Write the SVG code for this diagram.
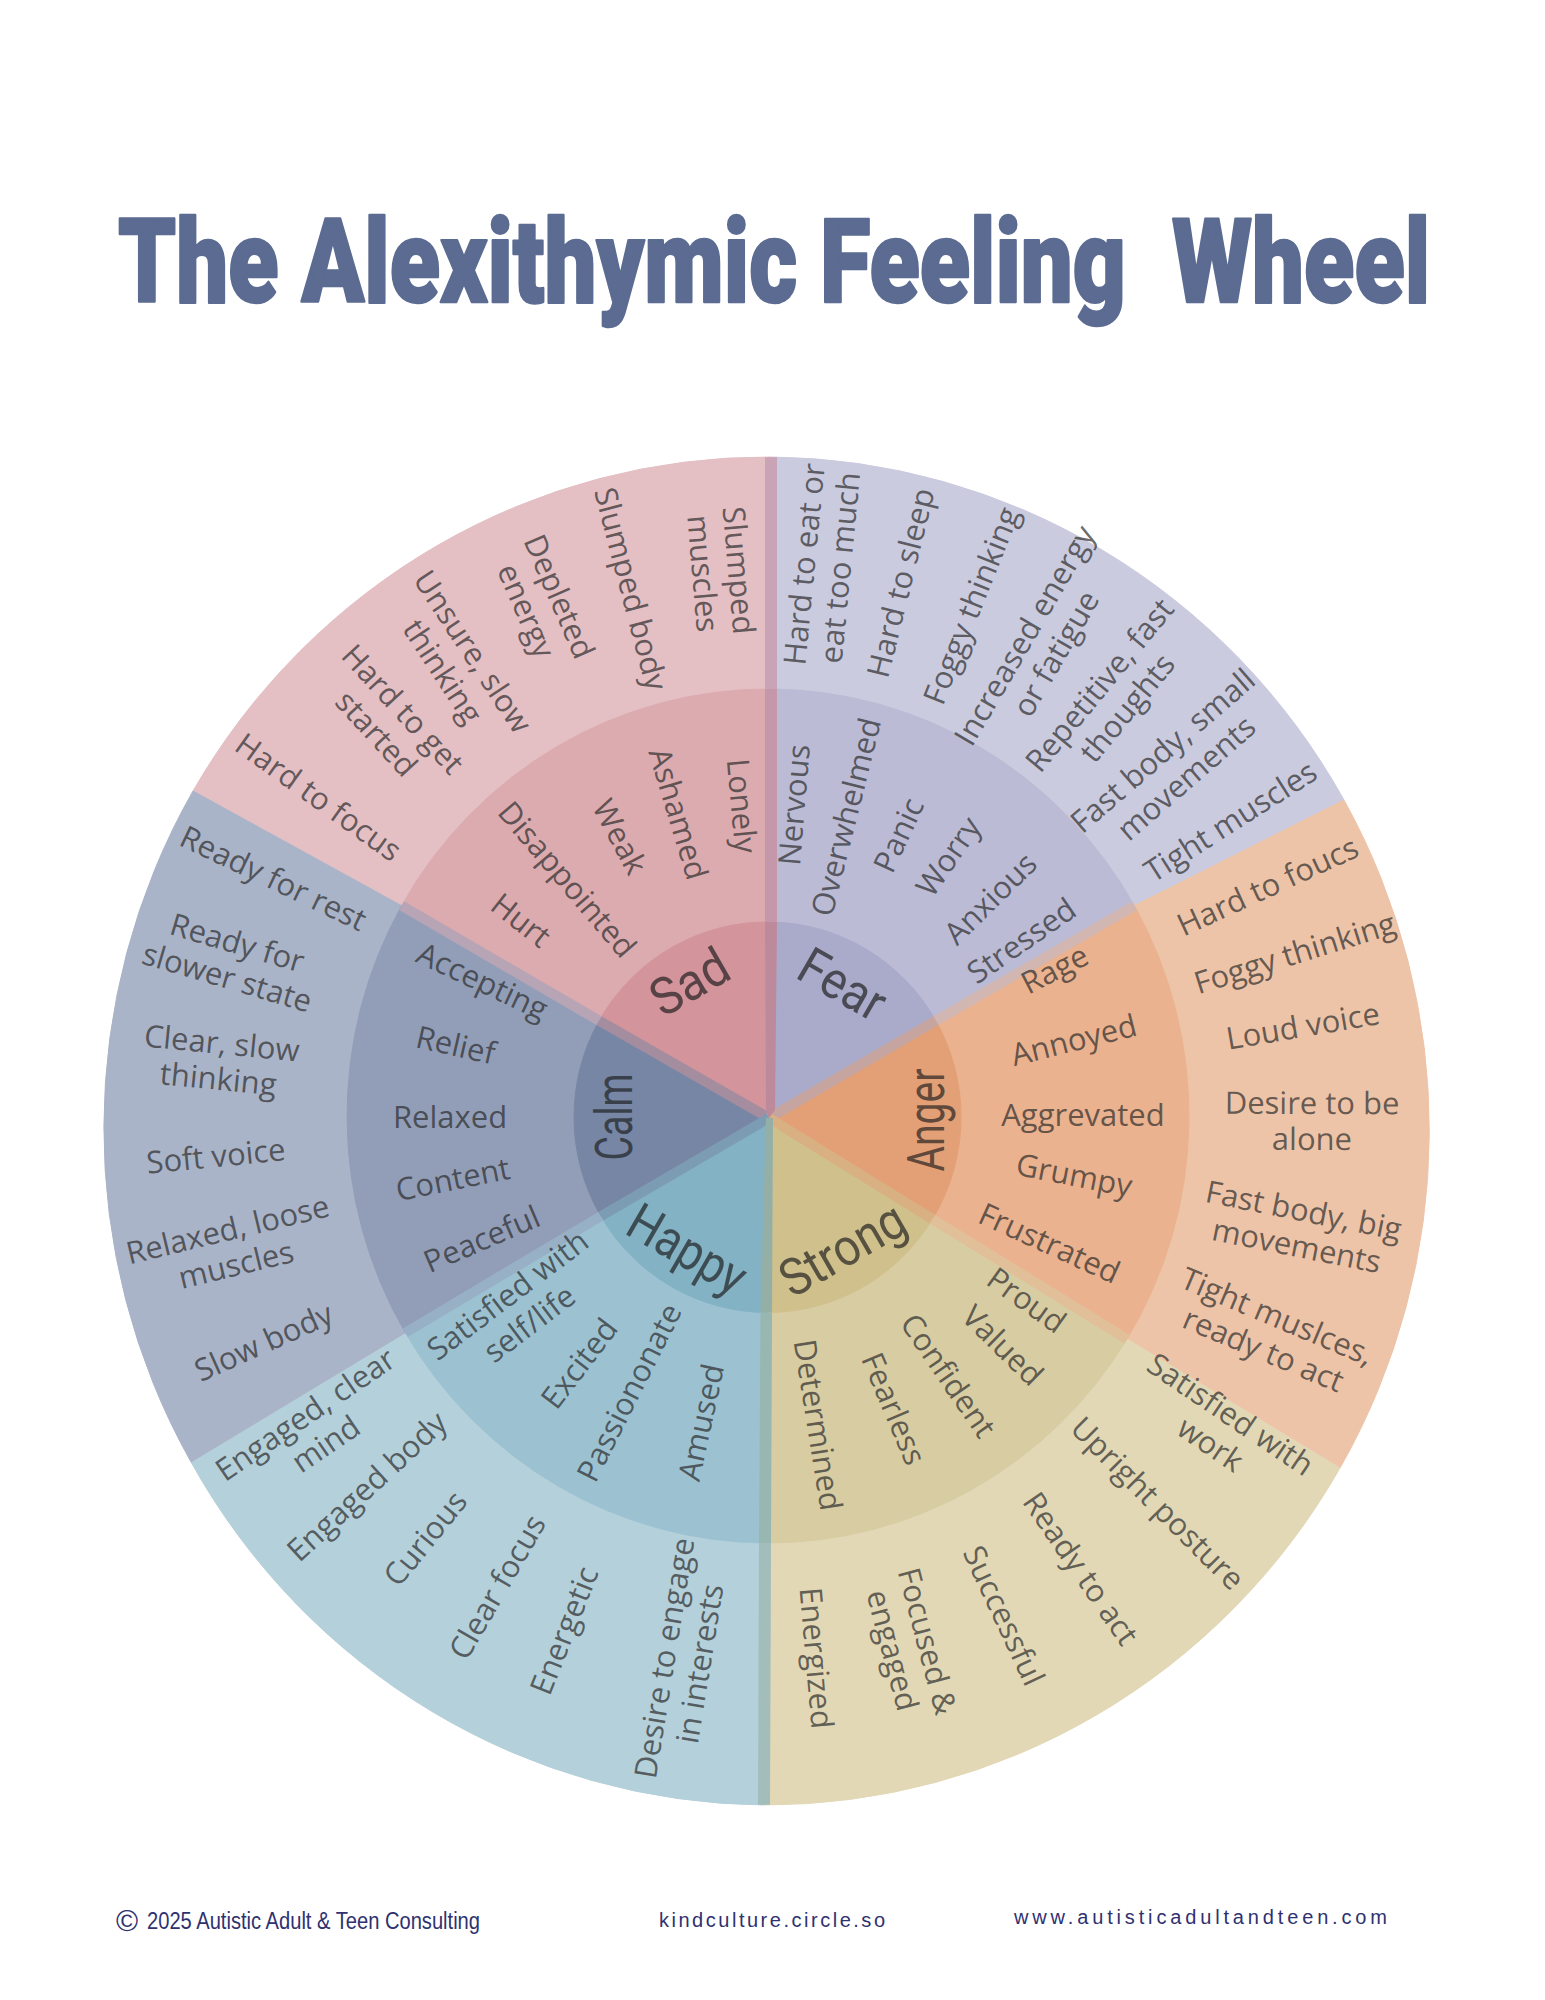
<svg xmlns="http://www.w3.org/2000/svg" width="1545" height="2000" viewBox="0 0 1545 2000">
<style>
.p{stroke-width:1;stroke-linejoin:round}
.sad-o{fill:#e4bfc4;stroke:#e4bfc4}.sad-m{fill:#dcabaf;stroke:#dcabaf}.sad-i{fill:#d4949c;stroke:#d4949c}
.fear-o{fill:#cbcbdf;stroke:#cbcbdf}.fear-m{fill:#bbbbd5;stroke:#bbbbd5}.fear-i{fill:#aaaaca;stroke:#aaaaca}
.ang-o{fill:#eec4a8;stroke:#eec4a8}.ang-m{fill:#eab28f;stroke:#eab28f}.ang-i{fill:#e3a076;stroke:#e3a076}
.str-o{fill:#e2d8b6;stroke:#e2d8b6}.str-m{fill:#d8cca3;stroke:#d8cca3}.str-i{fill:#d0c08c;stroke:#d0c08c}
.hap-o{fill:#b4d0da;stroke:#b4d0da}.hap-m{fill:#9cc2d2;stroke:#9cc2d2}.hap-i{fill:#82b2c4;stroke:#82b2c4}
.calm-o{fill:#aab4c8;stroke:#aab4c8}.calm-m{fill:#929eb8;stroke:#929eb8}.calm-i{fill:#7686a4;stroke:#7686a4}
.t{font-family:'Open Sans','DejaVu Sans',sans-serif;font-size:31px;fill:#2a2a2a;fill-opacity:.7;text-anchor:middle}
.c{font-family:Roboto,'DejaVu Sans',sans-serif;font-size:52px;fill:#1c1c1c;fill-opacity:.68;text-anchor:middle}
.f{font-family:'Liberation Sans',Arial,sans-serif;fill:#2f3170}
</style>
<rect width="1545" height="2000" fill="#ffffff"/>
<text id="title" x="118" y="302" textLength="1312" lengthAdjust="spacingAndGlyphs" xml:space="preserve" style="font-family:Roboto,'DejaVu Sans',sans-serif;font-weight:900;font-size:117px;fill:#5b6b91;stroke:#5b6b91;stroke-width:2.5;stroke-linejoin:round">The Alexithymic Feeling  Wheel</text>

<g id="wheel">
<g id="sector-sad">
<path class="p sad-o" d="M193,791 A664,674 0 0 1 771,457 L770,689 A421,427 0 0 0 401.6,905.7 Z"/>
<path class="p sad-m" d="M401.6,905.7 A421,427 0 0 1 770,689 L770,922 A193.5,195.5 0 0 0 599.1,1020.7 Z"/>
<path class="p sad-i" d="M769,1118 L599.1,1020.7 A193.5,195.5 0 0 1 770,922 Z"/>
</g>
<g id="sector-fear">
<path class="p fear-o" d="M771,457 A664,674 0 0 1 1344,800 L1134.4,905.7 A421,427 0 0 0 770,689 Z"/>
<path class="p fear-m" d="M770,689 A421,427 0 0 1 1134.4,905.7 L935.9,1020.7 A193.5,195.5 0 0 0 770,922 Z"/>
<path class="p fear-i" d="M769,1118 L770,922 A193.5,195.5 0 0 1 935.9,1020.7 Z"/>
</g>
<g id="sector-anger">
<path class="p ang-o" d="M1344,800 A664,674 0 0 1 1340,1468 L1127,1339.1 A421,427 0 0 0 1134.4,905.7 Z"/>
<path class="p ang-m" d="M1134.4,905.7 A421,427 0 0 1 1127,1339.1 L932.5,1219.1 A193.5,195.5 0 0 0 935.9,1020.7 Z"/>
<path class="p ang-i" d="M769,1118 L935.9,1020.7 A193.5,195.5 0 0 1 932.5,1219.1 Z"/>
</g>
<g id="sector-strong">
<path class="p str-o" d="M1340,1468 A664,674 0 0 1 764,1805 L766,1543 A421,427 0 0 0 1127,1339.1 Z"/>
<path class="p str-m" d="M1127,1339.1 A421,427 0 0 1 766,1543 L767.6,1312.5 A193.5,195.5 0 0 0 932.5,1219.1 Z"/>
<path class="p str-i" d="M769,1118 L932.5,1219.1 A193.5,195.5 0 0 1 767.6,1312.5 Z"/>
</g>
<g id="sector-happy">
<path class="p hap-o" d="M764,1805 A664,674 0 0 1 191,1462 L405.3,1332.7 A421,427 0 0 0 766,1543 Z"/>
<path class="p hap-m" d="M766,1543 A421,427 0 0 1 405.3,1332.7 L600.8,1216.2 A193.5,195.5 0 0 0 767.6,1312.5 Z"/>
<path class="p hap-i" d="M769,1118 L767.6,1312.5 A193.5,195.5 0 0 1 600.8,1216.2 Z"/>
</g>
<g id="sector-calm">
<path class="p calm-o" d="M191,1462 A664,674 0 0 1 193,791 L401.6,905.7 A421,427 0 0 0 405.3,1332.7 Z"/>
<path class="p calm-m" d="M405.3,1332.7 A421,427 0 0 1 401.6,905.7 L599.1,1020.7 A193.5,195.5 0 0 0 600.8,1216.2 Z"/>
<path class="p calm-i" d="M769,1118 L600.8,1216.2 A193.5,195.5 0 0 1 599.1,1020.7 Z"/>
</g>
</g>

<g id="seams">
<polygon fill="#a58da0" points="771.5,1113.6 601.6,1016.3 596.6,1025.1 766.5,1122.4"/>
<polygon fill="#b7a4b4" points="601.6,1016.3 404.1,901.3 399.1,910 596.6,1025.1"/>
<polygon fill="#c6a5a0" points="771.5,1122.4 938.4,1025.1 933.4,1016.3 766.5,1113.6"/>
<polygon fill="#d2b6b2" points="938.4,1025.1 1136.9,910.1 1131.9,901.4 933.4,1016.3"/>
<polygon fill="#d9b081" points="766.4,1122.3 929.9,1223.4 935.1,1214.8 771.6,1113.7"/>
<polygon fill="#e1bf99" points="929.9,1223.4 1124.4,1343.4 1129.6,1334.8 935.1,1214.8"/>
<polygon fill="#7c9cb4" points="766.5,1113.7 598.3,1211.9 603.3,1220.5 771.5,1122.3"/>
<polygon fill="#97b0c5" points="598.3,1211.9 402.8,1328.4 407.8,1337 603.3,1220.5"/>
<rect fill="#c9a3b6" x="765" y="457.2" width="12" height="232"/>
<rect fill="#c497aa" x="765" y="689" width="12" height="233"/>
<polygon fill="#bd8a9c" points="765,922 777,922 775,1110 769,1118 766,1110"/>
<polygon fill="#94b0a6" points="766,1118 773,1118 772,1312.5 760.5,1312.5"/>
<polygon fill="#97b7b0" points="760.5,1312.5 772,1312.5 771,1543 759,1543"/>
<polygon fill="#a3bdba" points="759,1543 771,1543 770,1804.8 758,1804.8"/>
</g>

<g id="labels-sad">
<text class="t" transform="translate(720,572) rotate(85.2)"><tspan x="0" y="-8">Slumped</tspan><tspan x="0" y="28">muscles</tspan></text>
<text class="t" transform="translate(630,589) rotate(75.3)" y="10">Slumped body</text>
<text class="t" transform="translate(542,604) rotate(66.5)"><tspan x="0" y="-8">Depleted</tspan><tspan x="0" y="28">energy</tspan></text>
<text class="t" transform="translate(457,662) rotate(56.6)"><tspan x="0" y="-8">Unsure, slow</tspan><tspan x="0" y="28">thinking</tspan></text>
<text class="t" transform="translate(389,722) rotate(47.3)"><tspan x="0" y="-8">Hard to get</tspan><tspan x="0" y="28">started</tspan></text>
<text class="t" transform="translate(318,798) rotate(35.6)" y="10">Hard to focus</text>
<text class="t" transform="translate(741,806) rotate(84.9)" y="10">Lonely</text>
<text class="t" transform="translate(677.5,814) rotate(73.2)" y="10">Ashamed</text>
<text class="t" transform="translate(619,837) rotate(61.9)" y="10">Weak</text>
<text class="t" transform="translate(566.5,880) rotate(49.5)" y="10">Disappointed</text>
<text class="t" transform="translate(520.5,921) rotate(38.3)" y="10">Hurt</text>
<text class="c" transform="translate(690,983) rotate(-30)" y="17" textLength="82" lengthAdjust="spacingAndGlyphs">Sad</text>
</g>

<g id="labels-fear">
<text class="t" transform="translate(823,566) rotate(-84.4)"><tspan x="0" y="-8">Hard to eat or</tspan><tspan x="0" y="28">eat too much</tspan></text>
<text class="t" transform="translate(901.6,583) rotate(-76)" y="10">Hard to sleep</text>
<text class="t" transform="translate(972,606) rotate(-68.3)" y="10">Foggy thinking</text>
<text class="t" transform="translate(1041,645) rotate(-59.8)"><tspan x="0" y="-8">Increased energy</tspan><tspan x="0" y="28">or fatigue</tspan></text>
<text class="t" transform="translate(1114,697) rotate(-50.6)"><tspan x="0" y="-8">Repetitive, fast</tspan><tspan x="0" y="28">thoughts</tspan></text>
<text class="t" transform="translate(1175,765) rotate(-40.9)"><tspan x="0" y="-8">Fast body, small</tspan><tspan x="0" y="28">movements</tspan></text>
<text class="t" transform="translate(1231,822) rotate(-32.5)" y="10">Tight muscles</text>
<text class="t" transform="translate(795,805) rotate(-85.2)" y="10">Nervous</text>
<text class="t" transform="translate(847,817) rotate(-75.9)" y="10">Overwhelmed</text>
<text class="t" transform="translate(899.4,835.6) rotate(-65.1)" y="10">Panic</text>
<text class="t" transform="translate(949,857) rotate(-55.3)" y="10">Worry</text>
<text class="t" transform="translate(991,899) rotate(-44.5)" y="10">Anxious</text>
<text class="t" transform="translate(1022,941.5) rotate(-34.7)" y="10">Stressed</text>
<text class="c" transform="translate(842,985) rotate(30)" y="17" textLength="92" lengthAdjust="spacingAndGlyphs">Fear</text>
</g>

<g id="labels-anger">
<text class="t" transform="translate(1268,887) rotate(-24.7)" y="10">Hard to foucs</text>
<text class="t" transform="translate(1295,954) rotate(-17.2)" y="10">Foggy thinking</text>
<text class="t" transform="translate(1303,1027) rotate(-9.6)" y="10">Loud voice</text>
<text class="t" transform="translate(1312,1122) rotate(0.2)"><tspan x="0" y="-8">Desire to be</tspan><tspan x="0" y="28">alone</tspan></text>
<text class="t" transform="translate(1300,1229) rotate(11.3)"><tspan x="0" y="-8">Fast body, big</tspan><tspan x="0" y="28">movements</tspan></text>
<text class="t" transform="translate(1270,1334) rotate(22.8)"><tspan x="0" y="-8">Tight muslces,</tspan><tspan x="0" y="28">ready to act</tspan></text>
<text class="t" transform="translate(1055,970) rotate(-27.3)" y="10">Rage</text>
<text class="t" transform="translate(1074,1041) rotate(-14)" y="10">Annoyed</text>
<text class="t" transform="translate(1083,1116) rotate(0)" y="10">Aggrevated</text>
<text class="t" transform="translate(1074,1176) rotate(11)" y="10">Grumpy</text>
<text class="t" transform="translate(1049,1244) rotate(24.4)" y="10">Frustrated</text>
<text class="c" transform="translate(927,1120) rotate(-90)" y="17" textLength="103" lengthAdjust="spacingAndGlyphs">Anger</text>
</g>

<g id="labels-strong">
<text class="t" transform="translate(1220,1430) rotate(34)"><tspan x="0" y="-8">Satisfied with</tspan><tspan x="0" y="28">work</tspan></text>
<text class="t" transform="translate(1157,1504) rotate(44.9)" y="10">Upright posture</text>
<text class="t" transform="translate(1080,1569) rotate(55.5)" y="10">Ready to act</text>
<text class="t" transform="translate(1003,1616) rotate(64.9)" y="10">Successful</text>
<text class="t" transform="translate(909,1646) rotate(75.2)"><tspan x="0" y="-8">Focused &amp;</tspan><tspan x="0" y="28">engaged</tspan></text>
<text class="t" transform="translate(815.5,1658) rotate(85.1)" y="10">Energized</text>
<text class="t" transform="translate(1026,1301) rotate(35.6)" y="10">Proud</text>
<text class="t" transform="translate(1002,1346) rotate(44.5)" y="10">Valued</text>
<text class="t" transform="translate(947.5,1376) rotate(55.4)" y="10">Confident</text>
<text class="t" transform="translate(893,1409) rotate(67)" y="10">Fearless</text>
<text class="t" transform="translate(817,1425) rotate(81)" y="10">Determined</text>
<text class="c" transform="translate(843,1250) rotate(-30)" y="17" textLength="136" lengthAdjust="spacingAndGlyphs">Strong</text>
</g>

<g id="labels-happy">
<text class="t" transform="translate(316,1430) rotate(-34.3)"><tspan x="0" y="-8">Engaged, clear</tspan><tspan x="0" y="28">mind</tspan></text>
<text class="t" transform="translate(367.5,1487) rotate(-42.6)" y="10">Engaged body</text>
<text class="t" transform="translate(426,1539) rotate(-50.9)" y="10">Curious</text>
<text class="t" transform="translate(498,1587.5) rotate(-60)" y="10">Clear focus</text>
<text class="t" transform="translate(565,1631) rotate(-68.4)" y="10">Energetic</text>
<text class="t" transform="translate(683,1661) rotate(-80.8)"><tspan x="0" y="-8">Desire to engage</tspan><tspan x="0" y="28">in interests</tspan></text>
<text class="t" transform="translate(519,1310) rotate(-37.1)"><tspan x="0" y="-8">Satisfied with</tspan><tspan x="0" y="28">self/life</tspan></text>
<text class="t" transform="translate(580,1364) rotate(-52.6)" y="10">Excited</text>
<text class="t" transform="translate(630,1393) rotate(-63.2)" y="10">Passiononate</text>
<text class="t" transform="translate(702,1422.5) rotate(-77.7)" y="10">Amused</text>
<text class="c" transform="translate(687,1250) rotate(30)" y="17" textLength="128" lengthAdjust="spacingAndGlyphs">Happy</text>
</g>

<g id="labels-calm">
<text class="t" transform="translate(273,879) rotate(25.6)" y="10">Ready for rest</text>
<text class="t" transform="translate(232,961) rotate(16.4)"><tspan x="0" y="-8">Ready for</tspan><tspan x="0" y="28">slower state</tspan></text>
<text class="t" transform="translate(220,1062) rotate(5.6)"><tspan x="0" y="-8">Clear, slow</tspan><tspan x="0" y="28">thinking</tspan></text>
<text class="t" transform="translate(216,1157) rotate(-5.6)" y="10">Soft voice</text>
<text class="t" transform="translate(232,1248) rotate(-13.5)"><tspan x="0" y="-8">Relaxed, loose</tspan><tspan x="0" y="28">muscles</tspan></text>
<text class="t" transform="translate(264,1343) rotate(-24.1)" y="10">Slow body</text>
<text class="t" transform="translate(482,982) rotate(25.2)" y="10">Accepting</text>
<text class="t" transform="translate(455.5,1046) rotate(12.8)" y="10">Relief</text>
<text class="t" transform="translate(450,1117.6) rotate(0)" y="10">Relaxed</text>
<text class="t" transform="translate(453,1180) rotate(-11.3)" y="10">Content</text>
<text class="t" transform="translate(482,1240) rotate(-23.2)" y="10">Peaceful</text>
<text class="c" transform="translate(615,1117) rotate(-90)" y="17" textLength="87" lengthAdjust="spacingAndGlyphs">Calm</text>
</g>

<g id="footer">
<text class="f" x="116" y="1931" style="font-size:30px">©</text>
<text class="f" x="147" y="1929" style="font-size:23px" textLength="333" lengthAdjust="spacingAndGlyphs">2025 Autistic Adult &amp; Teen Consulting</text>
<text class="f" x="659" y="1927" style="font-size:20px" textLength="226" lengthAdjust="spacing">kindculture.circle.so</text>
<text class="f" x="1014" y="1924" style="font-size:20px" textLength="373" lengthAdjust="spacing">www.autisticadultandteen.com</text>
</g>
</svg>
